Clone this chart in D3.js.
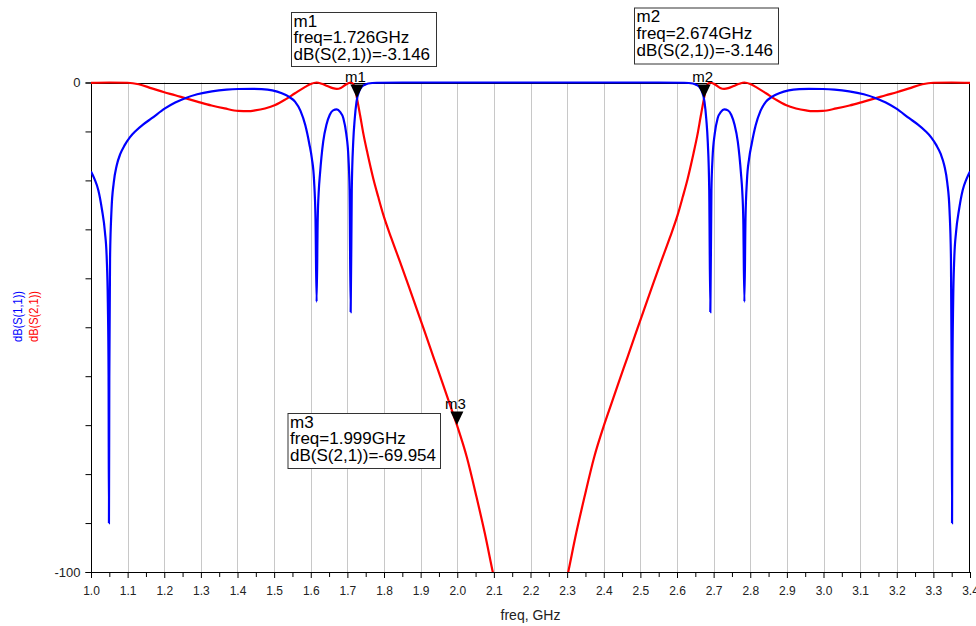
<!DOCTYPE html>
<html>
<head>
<meta charset="utf-8">
<script src="https://cdn.jsdelivr.net/npm/d3@7"></script>
<style>
  html, body { margin: 0; padding: 0; background: #fff; }
  svg { display: block; }
  text { font-family: "Liberation Sans", Arial, sans-serif; }
</style>
</head>
<body>
<svg id="chart" width="976" height="626"></svg>
<script>
// ---------------- DATA ----------------
const xTickValues = [1.0,1.1,1.2,1.3,1.4,1.5,1.6,1.7,1.8,1.9,2.0,2.1,2.2,2.3,2.4,2.5,2.6,2.7,2.8,2.9,3.0,3.1,3.2,3.3,3.4];
const yTickValues = [0,-10,-20,-30,-40,-50,-60,-70,-80,-90,-100];
const yTickLabels = ["0","","","","","","","","","","-100"];

// dB(S(1,1)) – blue
const s11Freq = [
  1.000,1.010,1.020,1.030,1.038,1.043,1.046,1.048,1.049,1.050,1.052,1.056,1.062,1.070,1.080,1.092,
  1.106,1.122,1.142,1.166,1.202,1.230,1.257,1.290,1.330,1.370,1.402,1.440,1.466,1.495,1.521,1.540,
  1.557,1.572,1.585,1.596,1.603,1.609,1.613,1.616,1.619,1.622,1.625,1.634,1.643,1.652,1.661,1.671,
  1.680,1.689,1.697,1.703,1.706,1.709,1.712,1.716,1.720,1.725,1.732,1.739,1.748,1.757,1.780,1.850,
  2.200,
  2.550,2.620,2.643,2.652,2.661,2.668,2.675,2.680,2.684,2.688,2.691,2.694,2.697,2.703,2.711,2.720,
  2.729,2.739,2.748,2.757,2.766,2.775,2.778,2.781,2.784,2.787,2.791,2.797,2.804,2.815,2.828,2.843,
  2.860,2.879,2.905,2.934,2.960,2.998,3.030,3.070,3.110,3.143,3.170,3.198,3.234,3.258,3.278,3.294,
  3.308,3.320,3.330,3.338,3.344,3.348,3.350,3.351,3.352,3.354,3.357,3.362,3.370,3.380,3.390,3.400
];
const s11dB = [
  -18.2,-19.8,-22.0,-26.0,-30.5,-36,-45,-60,-90,-60,-36,-26,-20.5,-17.0,-14.6,-12.8,
  -11.2,-9.9,-8.6,-7.3,-5.3,-4.1,-3.2,-2.4,-1.8,-1.45,-1.33,-1.3,-1.35,-1.6,-2.2,-2.9,
  -3.9,-5.8,-8.7,-12.5,-15.5,-20,-28,-44.8,-28,-22,-18.9,-12.1,-8.6,-6.6,-5.7,-5.5,
  -6.0,-7.3,-10.5,-15.5,-22,-46.9,-22,-12.1,-7.5,-3.9,-1.8,-0.9,-0.45,-0.2,-0.05,0,
  0,
  0,-0.05,-0.2,-0.45,-0.9,-1.8,-3.9,-7.5,-12.1,-22,-46.9,-22,-15.5,-10.5,-7.3,-6.0,
  -5.5,-5.7,-6.6,-8.6,-12.1,-18.9,-22,-28,-44.8,-28,-20,-15.5,-12.5,-8.7,-5.8,-3.9,
  -2.9,-2.2,-1.6,-1.35,-1.3,-1.33,-1.45,-1.8,-2.4,-3.2,-4.1,-5.3,-7.3,-8.6,-9.9,-11.2,
  -12.8,-14.6,-17.0,-20.5,-26,-36,-60,-90,-60,-45,-36,-30.5,-26.0,-22.0,-19.8,-18.2
];

// dB(S(2,1)) – red
const s21Freq = [
  1.000,1.050,1.100,1.130,1.166,1.200,1.230,1.257,1.290,1.329,1.365,1.402,1.430,1.448,1.475,1.503,
  1.530,1.557,1.585,1.600,1.616,1.630,1.645,1.660,1.671,1.682,1.694,1.709,1.716,1.721,1.726,1.735,
  1.744,1.755,1.771,1.784,1.798,1.820,1.844,1.866,1.889,1.912,1.935,1.958,1.980,1.999,2.026,2.053,2.075,
  2.097,2.120,2.200,2.280,
  2.303,2.325,2.347,2.374,2.401,2.420,2.442,2.465,2.488,2.511,2.534,2.556,2.580,2.602,2.616,2.629,2.645,
  2.656,2.665,2.674,2.679,2.684,2.691,2.706,2.718,2.729,2.740,2.755,2.770,2.784,2.800,2.815,2.843,
  2.870,2.897,2.925,2.952,2.970,2.998,3.035,3.071,3.110,3.143,3.170,3.200,3.234,3.270,3.300,3.350,3.400
];
const s21dB = [
  -0.07,0,-0.05,-0.35,-1.2,-2.0,-2.6,-3.2,-3.9,-4.7,-5.3,-5.8,-5.85,-5.7,-5.3,-4.6,
  -3.5,-2.2,-0.9,-0.3,0,-0.25,-0.7,-1.15,-1.3,-1.1,-0.5,0,-0.3,-1.3,-3.146,-6.8,
  -10.6,-14.5,-19.7,-23.3,-27.0,-31.8,-36.7,-41.3,-46.2,-51.1,-56.1,-61.0,-65.8,-69.954,-76.5,-84.8,-92.0,
  -100,-108,-140,-108,
  -100,-92.0,-84.8,-76.5,-69.954,-65.8,-61.0,-56.1,-51.1,-46.2,-41.3,-36.7,-31.8,-27.0,-23.3,-19.7,-14.5,
  -10.6,-6.8,-3.146,-1.3,-0.3,0,-0.5,-1.1,-1.3,-1.15,-0.7,-0.25,0,-0.3,-0.9,-2.2,
  -3.5,-4.6,-5.3,-5.7,-5.85,-5.8,-5.3,-4.7,-3.9,-3.2,-2.6,-2.0,-1.2,-0.35,-0.05,0,-0.07
];

// markers
const markerNames = ["m1","m2","m3"];
const markerFreq = [1.726, 2.674, 1.999];
const markerVal = [-3.146, -3.146, -69.954];
const markerFreqText = ["1.726GHz","2.674GHz","1.999GHz"];
const markerValText = ["-3.146","-3.146","-69.954"];

// ---------------- LAYOUT ----------------
const L = 91, R = 970, T = 82.5, B = 572;
const markerBoxes = [ {x:291, y:12, w:145, h:54}, {x:634, y:7.5, w:144, h:56}, {x:287.5, y:413, w:152.5, h:55} ];

const svg = d3.select("#chart");
const x = d3.scaleLinear().domain([1.0, 3.4]).range([L, R]);
const y = d3.scaleLinear().domain([0, -100]).range([T, B]);

svg.append("defs").append("clipPath").attr("id","plotclip")
  .append("rect").attr("x", L).attr("y", T - 2).attr("width", R - L).attr("height", B - T + 2);

// gridlines
svg.append("g").selectAll("line")
  .data(xTickValues.slice(1, -1))
  .join("line")
  .attr("x1", d => Math.round(x(d)) + 0.5).attr("x2", d => Math.round(x(d)) + 0.5)
  .attr("y1", T).attr("y2", B)
  .attr("stroke", "#c8c8c8").attr("stroke-width", 1);

// frame
svg.append("rect").attr("x", L + 0.5).attr("y", Math.round(T) + 0.5)
  .attr("width", R - L - 1).attr("height", B - Math.round(T))
  .attr("fill", "none").attr("stroke", "#000").attr("stroke-width", 1);

// x axis
const minorTicks = xTickValues.slice(0, -1).map(d => +(d + 0.05).toFixed(2));
const gxMinor = svg.append("g").attr("transform", `translate(0,${B})`)
  .call(d3.axisBottom(x).tickValues(minorTicks).tickSize(5).tickFormat(""));
gxMinor.select(".domain").remove();
gxMinor.selectAll("line").attr("stroke", "#000");

const gx = svg.append("g").attr("transform", `translate(0,${B})`)
  .call(d3.axisBottom(x).tickValues(xTickValues).tickSize(6).tickPadding(8).tickFormat(d3.format(".1f")));
gx.select(".domain").attr("stroke", "#000");
gx.selectAll("line").attr("stroke", "#000");
gx.selectAll("text").attr("font-size", 12).attr("fill", "#222")
  .attr("font-family", '"Liberation Sans", Arial, sans-serif');

// y axis
const gy = svg.append("g").attr("transform", `translate(${L},0)`)
  .call(d3.axisLeft(y).tickValues(yTickValues).tickSize(5.5).tickPadding(5)
    .tickFormat((d, i) => yTickLabels[i]));
gy.select(".domain").attr("stroke", "#000");
gy.selectAll("line").attr("stroke", "#000");
gy.selectAll("text").attr("font-size", 13).attr("fill", "#222")
  .attr("font-family", '"Liberation Sans", Arial, sans-serif');

// axis titles
svg.append("text").attr("x", (L + R) / 2).attr("y", 620).attr("text-anchor", "middle")
  .attr("font-size", 14).attr("fill", "#222").text("freq, GHz");
svg.append("text").attr("transform", "translate(21.5,316.5) rotate(-90)").attr("text-anchor", "middle")
  .attr("font-size", 12.5).attr("textLength", 51).attr("lengthAdjust", "spacingAndGlyphs")
  .attr("fill", "#0000ff").text("dB(S(1,1))");
svg.append("text").attr("transform", "translate(37.5,316.5) rotate(-90)").attr("text-anchor", "middle")
  .attr("font-size", 12.5).attr("textLength", 51).attr("lengthAdjust", "spacingAndGlyphs")
  .attr("fill", "#ff0000").text("dB(S(2,1))");

// curves
const plot = svg.append("g").attr("clip-path", "url(#plotclip)");
const line = d3.line().x(d => x(d[0])).y(d => y(d[1])).curve(d3.curveMonotoneX);
plot.append("path").datum(s21Freq.map((f, i) => [f, s21dB[i]]))
  .attr("d", line).attr("fill", "none").attr("stroke", "#ff0000").attr("stroke-width", 2.2);
plot.append("path").datum(s11Freq.map((f, i) => [f, s11dB[i]]))
  .attr("d", line).attr("fill", "none").attr("stroke", "#0000ff").attr("stroke-width", 2.2);

// markers
markerNames.forEach((name, i) => {
  const mx = x(markerFreq[i]), my = y(markerVal[i]);
  svg.append("path")
    .attr("d", `M${mx - 6.5},${my - 13.5} L${mx + 6.5},${my - 13.5} L${mx},${my} Z`)
    .attr("fill", "#000");
  svg.append("text").attr("x", mx - 1.5).attr("y", my - 16).attr("text-anchor", "middle")
    .attr("font-size", 15).attr("fill", "#000").text(name);
  const b = markerBoxes[i];
  svg.append("rect").attr("x", b.x + 0.5).attr("y", b.y + 0.5).attr("width", b.w).attr("height", b.h)
    .attr("fill", "#fff").attr("stroke", "#333").attr("stroke-width", 1);
  const lines = [name, "freq=" + markerFreqText[i], "dB(S(2,1))=" + markerValText[i]];
  lines.forEach((t, k) => {
    svg.append("text").attr("x", b.x + 2.5).attr("y", b.y + 14.5 + k * 16.8)
      .attr("font-size", 17).attr("fill", "#000").text(t);
  });
});
</script>
</body>
</html>
